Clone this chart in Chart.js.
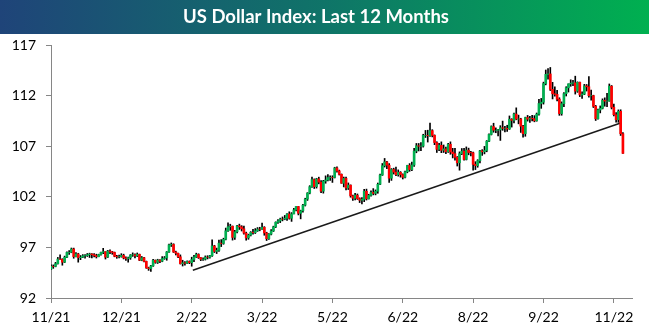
<!DOCTYPE html>
<html>
<head>
<meta charset="utf-8">
<script src="https://cdn.jsdelivr.net/npm/chart.js@4.4.0/dist/chart.umd.min.js"></script>
<style>
  html, body { margin: 0; padding: 0; background: #fff; }
</style>
</head>
<body>
<canvas id="dxyChart" width="649" height="334"></canvas>
<script>
// daily OHLC, 11/11/21 .. 11/11/22 (one row per month)
const openPx = [
  94.86, 95.13, 95.12, 95.39, 95.85, 95.83, 95.54, 96.03, 96.50, 96.52, 96.84, 96.09, 96.35,
  95.99, 96.03, 96.17, 96.18, 96.28, 96.35, 96.28, 96.19, 96.08, 96.29, 96.51, 96.58, 96.04, 96.64, 96.56, 96.50, 96.12, 96.07, 96.09, 96.21, 95.96, 95.90,
  95.97, 96.25, 96.27, 96.17, 96.31, 95.73, 95.98, 95.62, 94.98, 94.91, 95.17, 95.73, 95.52, 95.75, 95.63, 95.90, 95.96, 96.55, 97.25, 97.29,
  96.54, 96.42, 96.07, 95.39, 95.48, 95.43, 95.61, 95.49, 95.80, 96.06, 96.30, 95.99, 95.82, 95.84, 96.04, 96.03, 96.17, 97.14, 96.60,
  96.71, 97.42, 97.39, 97.80, 98.64, 99.04, 99.09, 97.99, 98.54, 99.12, 99.03, 98.84, 98.41, 97.94, 98.21, 98.49, 98.46, 98.64, 98.81, 98.79, 98.98, 98.43, 97.86,
  98.31, 98.62, 99.03, 99.48, 99.62, 99.80, 99.79, 99.88, 100.30, 99.88, 100.31, 100.71, 101.04, 100.37, 100.62, 101.17, 101.77, 102.37, 103.00, 103.70,
  103.00, 103.77, 103.45, 102.56, 103.55, 103.66, 103.90, 103.92, 103.91, 104.85, 104.55, 104.22, 103.34, 103.82, 102.88, 103.15, 102.10, 101.86, 102.16, 101.82, 101.66,
  101.75, 102.55, 101.80, 102.14, 102.43, 102.34, 102.55, 103.24, 104.15, 105.07, 105.45, 105.12, 103.84, 104.70, 104.44, 104.19, 104.42, 104.20, 103.93, 104.47, 105.10,
  104.69, 105.14, 106.52, 107.04, 107.00, 107.01, 108.07, 108.07, 108.04, 108.54, 108.07, 107.36, 106.69, 107.09, 106.60, 106.73, 106.46, 107.19, 106.42, 106.26,
  105.90, 105.36, 106.26, 106.51, 105.69, 106.61, 106.38, 106.35, 105.20, 105.08, 105.57, 106.54, 106.45, 106.58, 107.50, 108.16, 108.94, 108.58, 108.58, 108.62, 108.82, 108.77, 108.77,
  108.70, 109.67, 109.55, 110.18, 109.68, 109.69, 108.98, 108.24, 109.83, 109.67, 109.75, 109.72, 109.51, 110.17, 111.22, 111.35, 113.19, 114.10, 114.14, 112.61, 112.18,
  112.12, 111.65, 110.22, 111.20, 112.19, 112.77, 113.16, 113.23, 113.26, 112.44, 113.31, 112.07, 112.15, 112.96, 112.87, 111.99, 112.00, 110.94, 109.71, 110.58, 110.74,
  111.53, 111.45, 111.46, 112.93, 110.85, 110.11, 109.62, 110.45, 108.23
];
const highPx = [
  95.27, 95.27, 95.52, 96.01, 96.27, 95.88, 96.14, 96.56, 96.68, 96.94, 96.93, 96.50, 96.42,
  96.20, 96.29, 96.30, 96.40, 96.43, 96.38, 96.38, 96.33, 96.33, 96.53, 96.91, 96.58, 96.71, 96.76, 96.61, 96.54, 96.22, 96.23, 96.38, 96.33, 96.08, 96.05,
  96.29, 96.46, 96.36, 96.45, 96.34, 96.10, 96.03, 95.65, 95.05, 95.22, 95.83, 95.76, 95.83, 95.80, 96.09, 96.10, 96.59, 97.33, 97.44, 97.36,
  96.63, 96.43, 96.26, 95.73, 95.61, 95.67, 95.67, 96.03, 96.22, 96.43, 96.37, 96.00, 95.96, 96.16, 96.18, 96.21, 97.74, 97.21, 96.93,
  97.72, 97.77, 97.91, 98.91, 99.42, 99.29, 99.12, 98.68, 99.17, 99.30, 99.15, 99.11, 98.51, 98.31, 98.56, 98.79, 98.86, 98.96, 98.99, 99.41, 99.05, 98.50, 98.37,
  98.75, 99.10, 99.53, 99.76, 99.89, 100.01, 100.16, 100.34, 100.52, 100.44, 100.86, 101.03, 101.05, 100.68, 101.25, 101.86, 102.41, 103.10, 103.94, 103.77,
  103.83, 103.94, 103.61, 103.63, 104.07, 104.19, 104.07, 104.08, 104.92, 104.96, 104.64, 104.26, 103.95, 103.94, 103.37, 103.18, 102.17, 102.35, 102.28, 101.90, 101.92,
  102.74, 102.76, 102.25, 102.59, 102.81, 102.68, 103.36, 104.24, 105.29, 105.79, 105.51, 105.28, 104.79, 104.83, 104.94, 104.66, 104.49, 104.27, 104.55, 105.12, 105.28,
  105.43, 106.79, 107.27, 107.27, 107.35, 108.18, 108.56, 108.58, 109.29, 108.63, 108.12, 107.44, 107.28, 107.43, 107.12, 106.92, 107.29, 107.43, 106.79, 106.79,
  105.98, 106.44, 106.77, 106.78, 106.93, 106.81, 106.50, 106.41, 105.47, 105.67, 106.59, 106.66, 106.98, 107.56, 108.22, 109.01, 109.27, 108.81, 108.66, 109.03, 109.48, 108.97, 109.07,
  109.99, 109.72, 110.27, 110.79, 110.07, 109.76, 109.07, 109.87, 110.04, 109.94, 110.06, 110.02, 110.28, 111.63, 111.72, 113.33, 114.53, 114.67, 114.78, 113.31, 112.86,
  112.52, 111.79, 111.38, 112.29, 112.88, 113.16, 113.56, 113.51, 113.92, 113.36, 113.34, 112.38, 113.11, 113.10, 113.88, 112.55, 112.04, 111.03, 110.68, 110.98, 111.68,
  111.78, 112.22, 113.15, 113.00, 111.17, 110.32, 110.59, 110.60, 108.34
];
const lowPx = [
  94.81, 94.93, 95.08, 95.35, 95.80, 95.24, 95.50, 95.99, 96.31, 96.47, 95.93, 96.07, 95.54,
  95.79, 95.99, 95.94, 96.10, 96.00, 95.96, 96.06, 95.95, 96.07, 96.24, 96.38, 95.85, 96.00, 96.39, 96.32, 96.07, 95.92, 95.95, 96.03, 95.86, 95.71, 95.55,
  95.82, 96.11, 95.95, 96.09, 95.69, 95.68, 95.56, 94.93, 94.73, 94.63, 95.12, 95.43, 95.41, 95.50, 95.58, 95.82, 95.73, 96.50, 97.09, 96.50,
  96.25, 95.98, 95.35, 95.16, 95.25, 95.41, 95.39, 95.14, 95.59, 96.00, 95.91, 95.69, 95.71, 95.75, 95.86, 95.93, 96.10, 96.49, 96.39,
  96.61, 97.08, 97.31, 97.74, 98.58, 98.69, 97.72, 97.80, 98.42, 98.77, 98.62, 98.31, 97.71, 97.80, 98.13, 98.31, 98.37, 98.58, 98.64, 98.77, 98.20, 97.68, 97.78,
  98.23, 98.57, 98.96, 99.37, 99.45, 99.62, 99.73, 99.66, 99.79, 99.57, 100.30, 100.60, 100.21, 99.82, 100.48, 101.09, 101.64, 102.29, 102.93, 102.82,
  102.86, 103.28, 102.41, 102.36, 103.34, 103.57, 103.62, 103.42, 103.86, 104.44, 104.15, 103.33, 102.98, 102.68, 102.72, 101.96, 101.64, 101.70, 101.74, 101.43, 101.30,
  101.52, 101.68, 101.78, 102.05, 102.19, 102.19, 102.35, 103.20, 104.11, 104.94, 104.77, 103.41, 103.62, 104.25, 104.09, 104.04, 103.94, 103.76, 103.86, 104.37, 104.52,
  104.58, 104.99, 106.35, 106.53, 106.56, 106.91, 107.86, 107.41, 107.97, 107.92, 107.15, 106.38, 106.55, 106.36, 106.38, 106.27, 106.38, 106.20, 105.84, 105.63,
  105.04, 104.63, 106.17, 105.63, 105.64, 106.15, 106.04, 104.64, 104.69, 104.92, 105.35, 106.09, 106.24, 106.45, 107.45, 108.11, 108.38, 108.33, 108.02, 107.57, 108.57, 108.40, 108.46,
  108.66, 108.89, 109.30, 109.61, 109.21, 108.36, 107.88, 107.98, 109.48, 109.36, 109.51, 109.41, 109.47, 110.07, 110.74, 111.16, 113.06, 113.63, 112.50, 111.67, 111.94,
  111.47, 110.05, 110.06, 110.91, 111.96, 112.35, 112.92, 112.99, 112.15, 112.32, 111.90, 111.73, 112.09, 112.45, 111.85, 111.56, 110.82, 109.54, 109.67, 110.29, 110.68,
  110.95, 110.90, 111.44, 110.68, 109.99, 109.37, 109.36, 108.06, 106.28
];
const closePx = [
  95.13, 95.12, 95.39, 95.85, 95.83, 95.54, 96.03, 96.50, 96.52, 96.84, 96.09, 96.35, 95.99,
  96.03, 96.17, 96.18, 96.28, 96.35, 96.28, 96.19, 96.08, 96.29, 96.51, 96.58, 96.04, 96.64, 96.56, 96.50, 96.12, 96.07, 96.09, 96.21, 95.96, 95.90, 95.97,
  96.25, 96.27, 96.17, 96.31, 95.73, 95.98, 95.62, 94.98, 94.91, 95.17, 95.73, 95.52, 95.75, 95.63, 95.90, 95.96, 96.55, 97.25, 97.29, 96.54,
  96.42, 96.07, 95.39, 95.48, 95.43, 95.61, 95.49, 95.80, 96.06, 96.30, 95.99, 95.82, 95.84, 96.04, 96.03, 96.17, 97.14, 96.60, 96.71,
  97.42, 97.39, 97.80, 98.64, 99.04, 99.09, 97.99, 98.54, 99.12, 99.03, 98.84, 98.41, 97.94, 98.21, 98.49, 98.46, 98.64, 98.81, 98.79, 98.98, 98.43, 97.86, 98.31,
  98.62, 99.03, 99.48, 99.62, 99.80, 99.79, 99.88, 100.30, 99.88, 100.31, 100.71, 101.04, 100.37, 100.62, 101.17, 101.77, 102.37, 103.00, 103.70, 103.00,
  103.77, 103.45, 102.56, 103.55, 103.66, 103.90, 103.92, 103.91, 104.85, 104.55, 104.22, 103.34, 103.82, 102.88, 103.15, 102.10, 101.86, 102.16, 101.82, 101.66, 101.75,
  102.55, 101.80, 102.14, 102.43, 102.34, 102.55, 103.24, 104.15, 105.07, 105.45, 105.12, 103.84, 104.70, 104.44, 104.19, 104.42, 104.20, 103.93, 104.47, 105.10, 104.69,
  105.14, 106.52, 107.04, 107.00, 107.01, 108.07, 108.07, 108.04, 108.54, 108.07, 107.36, 106.69, 107.09, 106.60, 106.73, 106.46, 107.19, 106.42, 106.26, 105.90,
  105.36, 106.26, 106.51, 105.69, 106.61, 106.38, 106.35, 105.20, 105.08, 105.57, 106.54, 106.45, 106.58, 107.50, 108.16, 108.94, 108.58, 108.58, 108.62, 108.82, 108.77, 108.77, 108.70,
  109.67, 109.55, 110.18, 109.68, 109.69, 108.98, 108.24, 109.83, 109.67, 109.75, 109.72, 109.51, 110.17, 111.22, 111.35, 113.19, 114.10, 114.14, 112.61, 112.18, 112.12,
  111.65, 110.22, 111.20, 112.19, 112.77, 113.16, 113.23, 113.26, 112.44, 113.31, 112.07, 112.15, 112.96, 112.87, 111.99, 112.00, 110.94, 109.71, 110.58, 110.74, 111.53,
  111.45, 111.46, 112.93, 110.85, 110.11, 109.62, 110.45, 108.23, 106.29
];

// x axis: a label every 31 sessions
const tickIndex = [0, 31, 62, 93, 124, 155, 186, 217, 248];
const tickLabels = ['11/21', '12/21', '2/22', '3/22', '5/22', '6/22', '8/22', '9/22', '11/22'];

// hand-drawn trendline (session index, level)
const trendX = [62.5, 251];
const trendY = [94.75, 109.3];

const upColor = '#00b050';
const downColor = '#ff0000';

const wicks = highPx.map((h, i) => ({ x: i, y: [lowPx[i], h] }));
const bodies = closePx.map((c, i) => ({ x: i, y: [openPx[i], c] }));
const bodyColors = closePx.map((c, i) => (c >= openPx[i] ? upColor : downColor));

// gradient band behind the title
const titleBand = {
  id: 'titleBand',
  beforeDraw(chart) {
    const { ctx, width } = chart;
    const grad = ctx.createLinearGradient(0, 0, width, 0);
    grad.addColorStop(0, '#1f4479');
    grad.addColorStop(0.5, '#0f7468');
    grad.addColorStop(1, '#00b050');
    ctx.save();
    ctx.fillStyle = grad;
    ctx.fillRect(0, 0, width, 34);
    ctx.restore();
  }
};

Chart.defaults.font.family = 'Lato, "Open Sans", sans-serif';

new Chart(document.getElementById('dxyChart'), {
  type: 'bar',
  data: {
    datasets: [
      {
        label: 'Body',
        data: bodies,
        backgroundColor: bodyColors,
        barThickness: 2,
        grouped: false,
        borderWidth: 0
      },
      {
        label: 'Wick',
        data: wicks,
        backgroundColor: '#000',
        barThickness: 1,
        grouped: false,
        borderWidth: 0
      },
      {
        type: 'line',
        label: 'Trend',
        data: trendX.map((x, i) => ({ x: x, y: trendY[i] })),
        borderColor: '#1a1a1a',
        borderWidth: 1.5,
        pointRadius: 0,
        fill: false
      }
    ]
  },
  options: {
    responsive: false,
    animation: false,
    layout: { padding: { left: 0, right: 17, top: 0, bottom: 0 } },
    plugins: {
      legend: { display: false },
      tooltip: { enabled: false },
      title: {
        display: true,
        text: 'US Dollar Index: Last 12 Months',
        color: '#ffffff',
        font: { size: 18.5, weight: 'bold' },
        padding: { top: 6, bottom: 16.8 }
      }
    },
    scales: {
      x: {
        type: 'linear',
        offset: false,
        min: 0,
        max: 256,
        afterBuildTicks: (axis) => {
          axis.ticks = tickIndex.map(v => ({ value: v }));
        },
        afterFit: (axis) => { axis.height = 36; },
        grid: { offset: false, drawOnChartArea: false, tickLength: 5, color: '#868686' },
        border: { color: '#868686' },
        ticks: {
          autoSkip: false,
          maxRotation: 0,
          padding: 6,
          color: '#000',
          font: { size: 14 },
          callback: (v, i) => tickLabels[i]
        }
      },
      y: {
        min: 92,
        max: 117,
        afterFit: (axis) => { axis.width = 51; },
        grid: { drawOnChartArea: false, tickLength: 5, color: '#868686' },
        border: { color: '#868686' },
        ticks: { stepSize: 5, padding: 10, color: '#000', font: { size: 14 } }
      }
    }
  },
  plugins: [titleBand]
});
</script>
</body>
</html>
